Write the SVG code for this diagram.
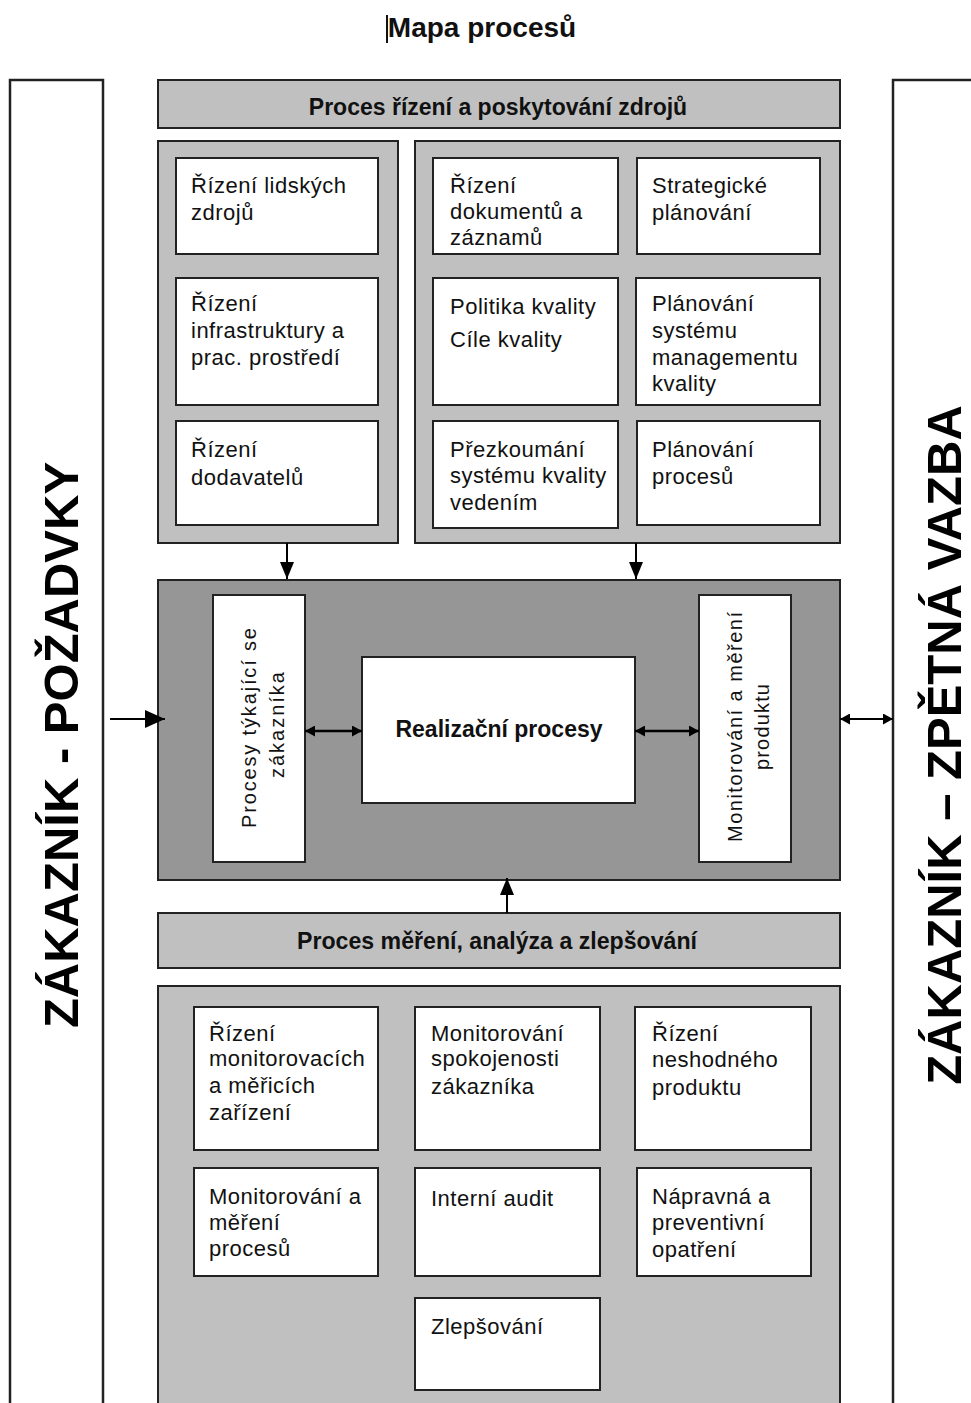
<svg xmlns="http://www.w3.org/2000/svg" width="971" height="1403" viewBox="0 0 971 1403">
  <defs>
    <style>
      .panel { fill: #c0c0c0; stroke: #222; stroke-width: 2; }
      .dark { fill: #969696; stroke: #222; stroke-width: 2; }
      .box { fill: #fff; stroke: #222; stroke-width: 2; }
      .band { fill: #fff; stroke: #222; stroke-width: 2.5; }
      .t { font-family: "Liberation Sans", Arial, sans-serif; font-size: 22px; letter-spacing: 0.5px; fill: #111; }
      .tv { font-family: "Liberation Sans", Arial, sans-serif; font-size: 20px; fill: #111; text-anchor: middle; }
      .hd { font-family: "Liberation Sans", Arial, sans-serif; font-weight: bold; fill: #111; text-anchor: middle; }
      .big { font-family: "Liberation Sans", Arial, sans-serif; font-weight: bold; font-size: 49px; fill: #000; text-anchor: middle; }
      .ln { stroke: #000; stroke-width: 2; fill: none; }
      .ln2 { stroke: #000; stroke-width: 2.5; fill: none; }
    </style>
    <marker id="head" viewBox="0 0 17 14" refX="17" refY="7" markerWidth="17" markerHeight="14" markerUnits="userSpaceOnUse" orient="auto-start-reverse">
      <path d="M0,0 L17,7 L0,14 z" fill="#000"/>
    </marker>
    <marker id="headLg" viewBox="0 0 20 18" refX="20" refY="9" markerWidth="20" markerHeight="18" markerUnits="userSpaceOnUse" orient="auto-start-reverse">
      <path d="M0,0 L20,9 L0,18 z" fill="#000"/>
    </marker>
    <marker id="headSm" viewBox="0 0 10 11" refX="10" refY="5.5" markerWidth="10" markerHeight="11" markerUnits="userSpaceOnUse" orient="auto-start-reverse">
      <path d="M0,0 L10,5.5 L0,11 z" fill="#000"/>
    </marker>
  </defs>

  <rect width="971" height="1403" fill="#fff"/>

  <!-- title with text caret -->
  <g id="title">
    <line x1="387" y1="15" x2="387" y2="43" stroke="#111" stroke-width="2"/>
    <text x="482" y="37" class="hd" font-size="28">Mapa procesů</text>
  </g>

  <!-- customer side bands -->
  <g id="band-left">
    <rect class="band" x="10" y="80" width="93" height="1340"/>
    <text class="big" transform="translate(78,745) rotate(-90)">ZÁKAZNÍK - POŽADVKY</text>
  </g>
  <g id="band-right">
    <rect class="band" x="893" y="80" width="100" height="1340"/>
    <text class="big" transform="translate(961,745) rotate(-90)">ZÁKAZNÍK – ZPĚTNÁ VAZBA</text>
  </g>

  <!-- resource management -->
  <g id="hdr-resources">
    <rect class="panel" x="158" y="80" width="682" height="48"/>
    <text x="498" y="115" class="hd" font-size="23">Proces řízení a poskytování zdrojů</text>
  </g>
  <g id="panel-res-left">
    <rect class="panel" x="158" y="141" width="240" height="402"/>
  </g>
  <g id="panel-res-right">
    <rect class="panel" x="415" y="141" width="425" height="402"/>
  </g>

  <g id="n-lidske-zdroje">
    <rect class="box" x="176" y="158" width="202" height="96"/>
    <text class="t"><tspan x="191" y="193">Řízení lidských</tspan><tspan x="191" y="220">zdrojů</tspan></text>
  </g>
  <g id="n-infrastruktura">
    <rect class="box" x="176" y="278" width="202" height="127"/>
    <text class="t"><tspan x="191" y="311">Řízení</tspan><tspan x="191" y="338">infrastruktury a</tspan><tspan x="191" y="365">prac. prostředí</tspan></text>
  </g>
  <g id="n-dodavatele">
    <rect class="box" x="176" y="421" width="202" height="104"/>
    <text class="t"><tspan x="191" y="457">Řízení</tspan><tspan x="191" y="485">dodavatelů</tspan></text>
  </g>

  <g id="n-dokumenty">
    <rect class="box" x="433" y="158" width="185" height="96"/>
    <text class="t"><tspan x="450" y="193">Řízení</tspan><tspan x="450" y="219">dokumentů a</tspan><tspan x="450" y="245">záznamů</tspan></text>
  </g>
  <g id="n-strategie">
    <rect class="box" x="637" y="158" width="183" height="96"/>
    <text class="t"><tspan x="652" y="193">Strategické</tspan><tspan x="652" y="220">plánování</tspan></text>
  </g>
  <g id="n-politika">
    <rect class="box" x="433" y="278" width="185" height="127"/>
    <text class="t"><tspan x="450" y="314">Politika kvality</tspan><tspan x="450" y="347">Cíle kvality</tspan></text>
  </g>
  <g id="n-planovani-qms">
    <rect class="box" x="636" y="278" width="184" height="127"/>
    <text class="t"><tspan x="652" y="311">Plánování</tspan><tspan x="652" y="338">systému</tspan><tspan x="652" y="365">managementu</tspan><tspan x="652" y="391">kvality</tspan></text>
  </g>
  <g id="n-prezkoumani">
    <rect class="box" x="433" y="421" width="185" height="107"/>
    <text class="t"><tspan x="450" y="457">Přezkoumání</tspan><tspan x="450" y="483">systému kvality</tspan><tspan x="450" y="510">vedením</tspan></text>
  </g>
  <g id="n-planovani-procesu">
    <rect class="box" x="637" y="421" width="183" height="104"/>
    <text class="t"><tspan x="652" y="457">Plánování</tspan><tspan x="652" y="484">procesů</tspan></text>
  </g>

  <!-- realization -->
  <g id="panel-realization">
    <rect class="dark" x="158" y="580" width="682" height="300"/>
  </g>
  <g id="n-zakaznik">
    <rect class="box" x="213" y="595" width="92" height="267"/>
    <text class="tv" transform="translate(256,728) rotate(-90)" textLength="200" lengthAdjust="spacing">Procesy týkající se</text>
    <text class="tv" transform="translate(284,725) rotate(-90)" textLength="106" lengthAdjust="spacing">zákazníka</text>
  </g>
  <g id="n-realizace">
    <rect class="box" x="362" y="657" width="273" height="146"/>
    <text x="499" y="737" class="hd" font-size="23">Realizační procesy</text>
  </g>
  <g id="n-monitor-produkt">
    <rect class="box" x="699" y="595" width="92" height="267"/>
    <text class="tv" transform="translate(742,727) rotate(-90)" textLength="230" lengthAdjust="spacing">Monitorování a měření</text>
    <text class="tv" transform="translate(769,727) rotate(-90)" textLength="86" lengthAdjust="spacing">produktu</text>
  </g>

  <!-- measurement and improvement -->
  <g id="hdr-measurement">
    <rect class="panel" x="158" y="913" width="682" height="55"/>
    <text x="497" y="949" class="hd" font-size="24" textLength="400" lengthAdjust="spacingAndGlyphs">Proces měření, analýza a zlepšování</text>
  </g>
  <g id="panel-measurement">
    <rect class="panel" x="158" y="986" width="682" height="440"/>
  </g>
  <g id="n-meridla">
    <rect class="box" x="194" y="1007" width="184" height="143"/>
    <text class="t"><tspan x="209" y="1041">Řízení</tspan><tspan x="209" y="1066">monitorovacích</tspan><tspan x="209" y="1093">a měřicích</tspan><tspan x="209" y="1120">zařízení</tspan></text>
  </g>
  <g id="n-spokojenost">
    <rect class="box" x="415" y="1007" width="185" height="143"/>
    <text class="t"><tspan x="431" y="1041">Monitorování</tspan><tspan x="431" y="1066">spokojenosti</tspan><tspan x="431" y="1094">zákazníka</tspan></text>
  </g>
  <g id="n-neshoda">
    <rect class="box" x="635" y="1007" width="176" height="143"/>
    <text class="t"><tspan x="652" y="1041">Řízení</tspan><tspan x="652" y="1067">neshodného</tspan><tspan x="652" y="1095">produktu</tspan></text>
  </g>
  <g id="n-monitor-procesy">
    <rect class="box" x="194" y="1168" width="184" height="108"/>
    <text class="t"><tspan x="209" y="1204">Monitorování a</tspan><tspan x="209" y="1230">měření</tspan><tspan x="209" y="1256">procesů</tspan></text>
  </g>
  <g id="n-audit">
    <rect class="box" x="415" y="1168" width="185" height="108"/>
    <text class="t"><tspan x="431" y="1206">Interní audit</tspan></text>
  </g>
  <g id="n-napravna">
    <rect class="box" x="637" y="1168" width="174" height="108"/>
    <text class="t"><tspan x="652" y="1204">Nápravná a</tspan><tspan x="652" y="1230">preventivní</tspan><tspan x="652" y="1257">opatření</tspan></text>
  </g>
  <g id="n-zlepsovani">
    <rect class="box" x="415" y="1298" width="185" height="92"/>
    <text class="t"><tspan x="431" y="1334">Zlepšování</tspan></text>
  </g>

  <!-- connectors -->
  <g id="connectors">
    <line class="ln" x1="287" y1="543" x2="287" y2="579" marker-end="url(#head)"/>
    <line class="ln" x1="636" y1="543" x2="636" y2="579" marker-end="url(#head)"/>
    <line class="ln" x1="507" y1="913" x2="507" y2="878" marker-end="url(#head)"/>
    <line class="ln" x1="110" y1="719" x2="165" y2="719" marker-end="url(#headLg)"/>
    <line class="ln2" x1="305" y1="731" x2="362" y2="731" marker-start="url(#headSm)" marker-end="url(#headSm)"/>
    <line class="ln2" x1="635" y1="731" x2="699" y2="731" marker-start="url(#headSm)" marker-end="url(#headSm)"/>
    <line class="ln" x1="840" y1="719" x2="893" y2="719" marker-start="url(#headSm)" marker-end="url(#headSm)"/>
  </g>
</svg>
